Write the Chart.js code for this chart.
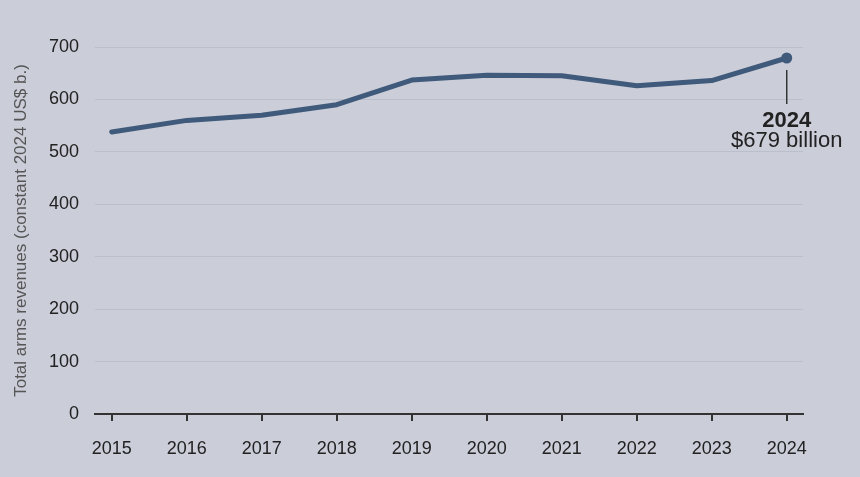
<!DOCTYPE html>
<html>
<head>
<meta charset="utf-8">
<script src="https://cdn.jsdelivr.net/npm/chart.js@4"></script>
<style>
  html, body { margin: 0; padding: 0; background: #cbcdd9; }
  #wrap { width: 860px; height: 477px; position: relative; }
</style>
</head>
<body>
<div id="wrap"><canvas id="c" width="860" height="477"></canvas></div>
<script>
const years = [2015, 2016, 2017, 2018, 2019, 2020, 2021, 2022, 2023, 2024];
const revenues = [538, 560, 570, 590, 637, 646, 645, 626, 636, 679];
const yTicks = [0, 100, 200, 300, 400, 500, 600, 700];
const yTitle = 'Total arms revenues (constant 2024 US$ b.)';

const FONT = "'Liberation Sans', Arial, sans-serif";
const last = years.length - 1;

const annotate = {
  id: 'annotate',
  afterDatasetsDraw(chart) {
    const meta = chart.getDatasetMeta(0);
    const pt = meta.data[last];
    const ctx = chart.ctx;
    ctx.save();
    ctx.strokeStyle = '#333';
    ctx.lineWidth = 1.5;
    ctx.beginPath();
    ctx.moveTo(pt.x, pt.y + 12);
    ctx.lineTo(pt.x, pt.y + 46);
    ctx.stroke();
    ctx.fillStyle = '#222';
    ctx.textAlign = 'center';
    ctx.textBaseline = 'alphabetic';
    ctx.font = "bold 22px " + FONT;
    ctx.fillText(String(years[last]), pt.x, pt.y + 69);
    ctx.font = "22px " + FONT;
    ctx.fillText('$' + revenues[last] + ' billion', pt.x, pt.y + 89);
    ctx.restore();
  }
};

new Chart(document.getElementById('c'), {
  type: 'line',
  data: {
    datasets: [{
      data: years.map((y, i) => ({ x: y, y: revenues[i] })),
      borderColor: '#3f5a7a',
      backgroundColor: '#3f5a7a',
      borderWidth: 5,
      borderCapStyle: 'round',
      borderJoinStyle: 'round',
      tension: 0,
      pointRadius: years.map((_, i) => i === last ? 5.5 : 0),
      pointHoverRadius: 0,
      pointBorderWidth: 0
    }]
  },
  options: {
    responsive: false,
    animation: false,
    events: [],
    layout: { padding: { top: 47, right: 57, left: 0, bottom: 0 } },
    plugins: { legend: { display: false }, tooltip: { enabled: false } },
    scales: {
      x: {
        type: 'linear',
        min: 2014.777,
        max: 2024.217,
        afterBuildTicks(scale) { scale.ticks = years.map(v => ({ value: v })); },
        afterFit(scale) { scale.height = 63; },
        border: { display: true, color: '#333', width: 2 },
        grid: { display: true, drawOnChartArea: false, drawTicks: true, tickLength: 7, color: '#333', lineWidth: 2 },
        ticks: {
          color: '#222',
          font: { family: FONT, size: 18 },
          padding: 17,
          maxRotation: 0,
          autoSkip: false,
          callback: v => String(v)
        }
      },
      y: {
        min: 0,
        max: 700,
        afterBuildTicks(scale) { scale.ticks = yTicks.map(v => ({ value: v })); },
        afterFit(scale) { scale.width = 95; },
        border: { display: false },
        grid: { color: '#bbbecb', lineWidth: 1, drawTicks: false },
        ticks: {
          color: '#222',
          font: { family: FONT, size: 18 },
          padding: 16,
          callback: v => String(v)
        },
        title: {
          display: true,
          text: yTitle,
          color: '#555',
          font: { family: FONT, size: 17 },
          padding: { top: 11, bottom: 0 }
        }
      }
    }
  },
  plugins: [annotate]
});
</script>
</body>
</html>
